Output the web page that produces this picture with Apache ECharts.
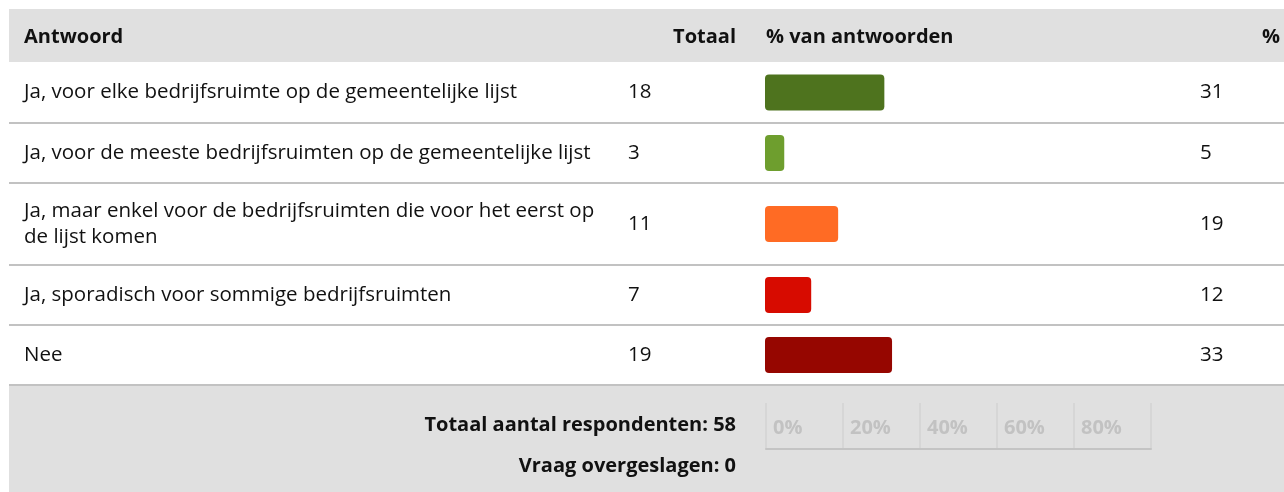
<!DOCTYPE html>
<html>
<head>
<meta charset="utf-8">
<script src="https://cdn.jsdelivr.net/npm/echarts@6/dist/echarts.min.js"></script>
<style>
  html, body { margin: 0; padding: 0; background: #fff; }
  #chart { width: 1284px; height: 492px; }
</style>
</head>
<body>
<div id="chart"></div>
<script>
const answers = [
  "Ja, voor elke bedrijfsruimte op de gemeentelijke lijst",
  "Ja, voor de meeste bedrijfsruimten op de gemeentelijke lijst",
  "Ja, maar enkel voor de bedrijfsruimten die voor het eerst op de lijst komen",
  "Ja, sporadisch voor sommige bedrijfsruimten",
  "Nee"
];
const totals = [18, 3, 11, 7, 19];
const percents = [31, 5, 19, 12, 33];
const barColors = ["#4e731e", "#6e9e2e", "#ff6b24", "#d70b00", "#960600"];
const headers = ["Antwoord", "Totaal", "% van antwoorden", "%"];
const respondents = 58;
const skipped = 0;

// layout
const FONT = "'Open Sans'";
const SIZE = 20.5;
const BOLD_SIZE = 20;
const rowEdges = [62, 123, 183, 265, 325, 385];
const barLeft = 765, barWidth = 385, barH = 36;

const chart = echarts.init(document.getElementById("chart"));

const grids = [], xAxes = [], yAxes = [], series = [];
const graphic = [];

// header band + footer band
graphic.push({ type: "rect", shape: { x: 9, y: 9, width: 1275, height: 53 }, style: { fill: "#e0e0e0" }, z: 0 });
graphic.push({ type: "rect", shape: { x: 9, y: 385, width: 1275, height: 107 }, style: { fill: "#e0e0e0" }, z: 0 });

const txt = (x, y, text, opts) => ({
  type: "text", x: x, y: y, z: 10,
  style: Object.assign({ text: text, fill: "#111", font: SIZE + "px " + FONT, verticalAlign: "middle", align: "left" }, opts || {})
});
const bold = "bold " + BOLD_SIZE + "px " + FONT;

graphic.push(txt(24, 37, headers[0], { font: bold }));
graphic.push(txt(736, 37, headers[1], { font: bold, align: "right" }));
graphic.push(txt(766, 37, headers[2], { font: bold }));
graphic.push(txt(1280, 37, headers[3], { font: bold, align: "right" }));

answers.forEach((a, i) => {
  const top = rowEdges[i], bottom = rowEdges[i + 1];
  const mid = (top + bottom) / 2;
  // separator under each row
  graphic.push({ type: "rect", shape: { x: 9, y: bottom - 1, width: 1275, height: 2 }, style: { fill: "#c2c2c2" }, z: 1 });
  graphic.push(txt(24, mid, a, { width: 596, overflow: "break", lineHeight: 26 }));
  graphic.push(txt(628, mid, String(totals[i])));
  graphic.push(txt(1200, mid, String(percents[i])));

  grids.push({ left: barLeft, width: barWidth, top: mid - barH / 2, height: barH });
  xAxes.push({ type: "value", gridIndex: i, min: 0, max: 100, show: false });
  yAxes.push({ type: "category", gridIndex: i, data: [a], show: false });
  series.push({
    type: "bar", xAxisIndex: i, yAxisIndex: i, barWidth: barH,
    data: [percents[i]],
    itemStyle: { color: barColors[i], borderRadius: 4 },
    silent: true
  });
});

// footer scale box
const fi = answers.length;
grids.push({
  left: 766, width: 385, top: 403, height: 46,
  show: true, backgroundColor: "#f2f2f2", borderColor: "#d6d6d6", borderWidth: 1
});
xAxes.push({
  type: "value", gridIndex: fi, min: 0, max: 100, interval: 20,
  axisLine: { show: true, lineStyle: { color: "#c4c4c4", width: 2 } },
  axisTick: { show: false },
  splitLine: { show: true, lineStyle: { color: "#d6d6d6", width: 2 } },
  axisLabel: {
    inside: true, margin: 21, align: "left", verticalAlign: "middle",
    padding: [0, 0, 0, 7], showMaxLabel: false,
    color: "#c2c2c2", fontWeight: "bold", fontSize: BOLD_SIZE, fontFamily: FONT,
    formatter: v => v + "%"
  }
});
yAxes.push({ type: "value", gridIndex: fi, show: false });

graphic.push(txt(736, 425, "Totaal aantal respondenten: " + respondents, { font: bold, align: "right" }));
graphic.push(txt(736, 466, "Vraag overgeslagen: " + skipped, { font: bold, align: "right" }));

chart.setOption({
  animation: false,
  grid: grids,
  xAxis: xAxes,
  yAxis: yAxes,
  series: series,
  graphic: graphic
});
</script>
</body>
</html>
